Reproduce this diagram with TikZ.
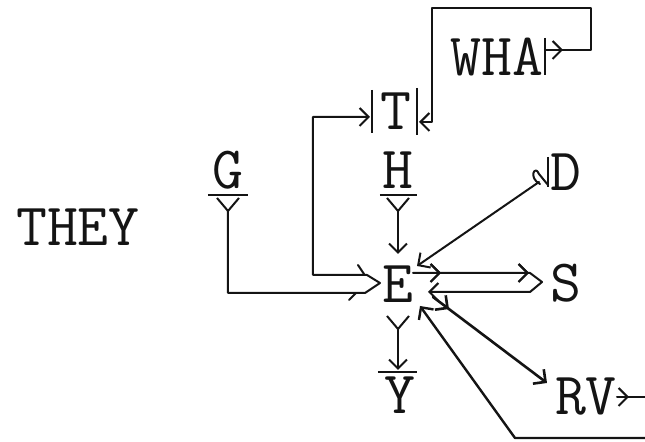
\documentclass[tikz,border=0pt]{standalone}
\usepackage{fontspec}
\usepackage{tikz}
\usetikzlibrary{calc,arrows.meta,decorations.markings}
\definecolor{inkBlack}{RGB}{20,20,20}
\newcommand{\TypeFace}{\fontsize{30}{32}\selectfont\ttfamily\addfontfeatures{FakeBold=0.7}}
\tikzset{
  glyph/.style={inner sep=0pt,text height=18.3pt,text depth=0pt,text=inkBlack,font=\TypeFace},
  wire/.style={draw=inkBlack,line width=1pt,line cap=round,line join=round},
  bar/.style={draw=inkBlack,line width=1.2pt},
  headTip/.style={-{Straight Barb[length=4.5pt,width=9pt]}},
  forkTail/.style={{Straight Barb[reversed,length=6.5pt,width=11pt]}-{Straight Barb[length=4.5pt,width=9pt]}},
  midTip/.style={postaction={decorate},decoration={markings,mark=at position #1 with {\arrow{Straight Barb[length=4.5pt,width=9pt]}}}}
}

\begin{document}
\begin{tikzpicture}[x=0.5pt,y=-0.5pt]
\useasboundingbox (0,0) rectangle (645,442);
% letters
\node[glyph] (THEY) at (78,227) {THEY};
\node[glyph] (G) at (228,170) {G};
\node[glyph] (H) at (398,170) {H};
\node[glyph] (T) at (396,111) {T};
\node[glyph] (WHA) at (497,57) {WHA};
\node[glyph] (D) at (566,172) {D};
\node[glyph] (E) at (398,284) {E};
\node[glyph] (S) at (566,283) {S};
\node[glyph] (RV) at (586,396) {RV};
\node[glyph] (Y) at (400,395) {Y};
% typed bars
\draw[bar] ($(G)+(-20,25)$) -- ($(G)+(20,25)$);
\draw[bar] ($(H)+(-18,25)$) -- ($(H)+(19,25)$);
\draw[bar] ($(Y)+(-22,-23)$) -- ($(Y)+(17,-23)$);
\draw[bar] ($(T)+(-24,-21)$) -- ($(T)+(-24,22)$);
\draw[bar] ($(T)+(21,-23)$) -- ($(T)+(21,24)$);
\draw[bar] ($(D)+(-18,-15)$) -- ($(D)+(-18,15)$);
\draw[bar] ($(WHA)+(48,-19)$) -- ($(WHA)+(48,18)$);
% corner points
\coordinate (mergeTip) at ($(E)+(-18,-1)$);
\coordinate (loopCorner) at (313,275);
\coordinate (topRight) at (591,8);
\coordinate (topLeft) at (432,8);
\coordinate (farSE) at (645,438);
\coordinate (farE) at (645,397);
% into E from the left, and round to T
\draw[wire,forkTail] ($(G)+(0,27)$) |- ($(E)+(-33,9)$) -- (mergeTip)
  -- ($(E)+(-31,-9)$) -- (loopCorner) |- ($(T)+(-26,6)$);
\draw[wire] ($(E)+(-40,-19)$) -- ($(E)+(-34,-10)$);
\draw[wire] ($(E)+(-49,16)$) -- ($(E)+(-42,9)$);
% WHA back to T
\draw[wire,midTip=9pt,headTip] ($(WHA)+(48,-7)$) -| (topRight) -- (topLeft)
  |- ($(T)+(23,11)$);
% H and D into E
\draw[wire,forkTail] ($(H)+(0,27)$) -- ($(E)+(0,-30)$);
\draw[wire,headTip] ($(D)+(-27,10)$) -- ($(E)+(19,-18)$);
\draw[wire] ($(D)+(-26,12)$) .. controls ($(D)+(-38,6)$) and ($(D)+(-31,-8)$) .. ($(D)+(-27,2)$)
  -- ($(D)+(-18,13)$);
% E and S
\draw[wire,midTip=14pt,headTip,
  postaction={decorate},decoration={markings,mark=at position 58pt with {\arrow{Straight Barb[length=4.5pt,width=9pt]}}}]
  ($(E)+(15,-11)$) -- ($(S)+(-36,-10)$) -- ($(S)+(-24,-1)$) -- ($(S)+(-36,9)$) -- ($(E)+(30,8)$);
% E to RV and Y
\draw[wire,line width=1.3pt,midTip=10pt,headTip] ($(E)+(35,13)$) -- ($(RV)+(-39,-13)$);
\draw[wire,forkTail] ($(E)+(0,31)$) -- ($(Y)+(-2,-25)$);
% loose ends
\draw[wire,line width=1.2pt,headTip] (farSE) -- (515,438) -- ($(E)+(22,22)$);
\draw[wire,midTip=6pt] ($(RV)+(31,1)$) -- (farE);
\end{tikzpicture}
\end{document}
